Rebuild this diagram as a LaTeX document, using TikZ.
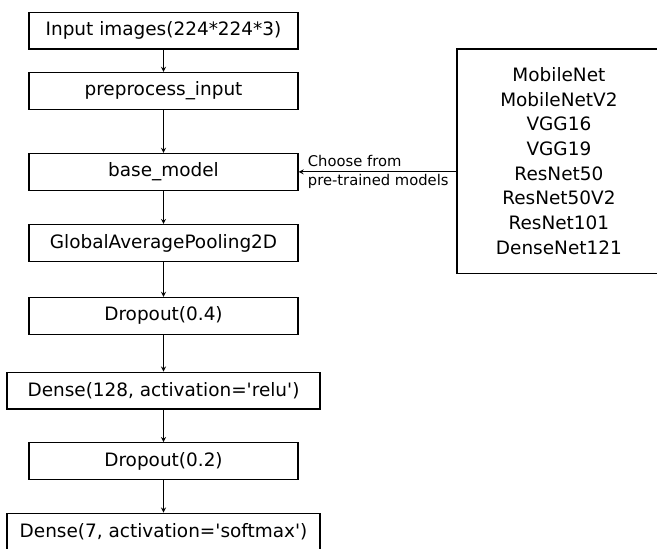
\documentclass[tikz,border=0pt]{standalone}
\usepackage{fontspec}
\setmainfont{DejaVu Sans}
\usetikzlibrary{arrows}

\begin{document}
\begin{tikzpicture}[
    layer/.style={draw=black,line width=1.2pt,minimum width=8.97cm,minimum height=1.23cm,inner sep=0pt,font=\fontsize{17.5}{21}\selectfont},
    widelayer/.style={layer,minimum width=10.43cm},
    flow/.style={->,>=stealth,line width=1.1pt}]
  \useasboundingbox (0,0) rectangle (21.9,18.3);
  \clip (0,0) rectangle (21.9,18.3);

  % layers of the network:
  \node[layer] (input) at (5.45,17.28) {Input images(224*224*3)};
  \node[layer] (prep) at (5.45,15.27) {preprocess\_input};
  \node[layer] (base) at (5.45,12.57) {base\_model};
  \node[layer] (gap) at (5.45,10.2) {GlobalAveragePooling2D};
  \node[layer] (dropa) at (5.45,7.77) {Dropout(0.4)};
  \node[widelayer] (densea) at (5.45,5.28) {Dense(128, activation=\textquotesingle relu\textquotesingle)};
  \node[layer] (dropb) at (5.45,2.93) {Dropout(0.2)};
  \node[widelayer] (denseb) at (5.45,0.58) {Dense(7, activation=\textquotesingle softmax\textquotesingle)};

  \draw[flow] (input) -- (prep);
  \draw[flow] (prep) -- (base);
  \draw[flow] (base) -- (gap);
  \draw[flow] (gap) -- (dropa);
  \draw[flow] (dropa) -- (densea);
  \draw[flow] (densea) -- (dropb);
  \draw[flow] (dropb) -- (denseb);

  % pre-trained models:
  \node[draw=black,line width=1.2pt,minimum width=6.8cm,minimum height=7.47cm,align=center,font=\fontsize{17.5}{23.4}\selectfont] (models) at (18.63,12.93)
    {MobileNet\\MobileNetV2\\VGG16\\VGG19\\ResNet50\\ResNet50V2\\ResNet101\\DenseNet121};
  \draw[flow] (models.west |- base.east) -- (base.east);
  \node[anchor=west,align=left,inner sep=0pt,font=\fontsize{14}{18}\selectfont] (choose) at ([xshift=0.3cm]base.east) {Choose from\\pre-trained models};
\end{tikzpicture}
\end{document}
